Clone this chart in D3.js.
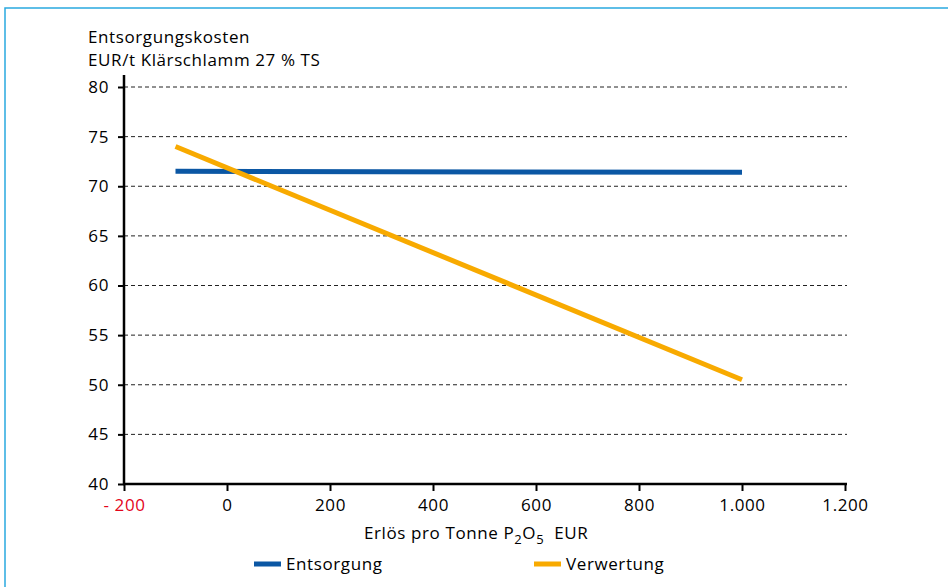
<!DOCTYPE html>
<html><head><meta charset="utf-8">
<script src="https://cdn.jsdelivr.net/npm/d3@7"></script>
<style>
body{margin:0;background:#fff;}
svg{font-family:"Open Sans","Noto Sans",sans-serif;}
</style></head>
<body><svg id="c" width="948" height="587"></svg>
<script>
const xTicks = [-200, 0, 200, 400, 600, 800, 1000, 1200];
const xTickLabels = ["- 200", "0", "200", "400", "600", "800", "1.000", "1.200"];
const yTicks = [40, 45, 50, 55, 60, 65, 70, 75, 80];
const seriesNames = ["Entsorgung", "Verwertung"];
const seriesX = [-100, 1000];
const entsorgung = [71.5, 71.4];
const verwertung = [74.0, 50.5];
const colors = ["#0b57a4", "#f8aa00"];

const FS = 17, LS = 0.6;
const svg = d3.select("#c");
// frame
svg.append("rect").attr("x",5).attr("y",8).attr("width",960).attr("height",600)
  .attr("fill","none").attr("stroke","#2aa9e0").attr("stroke-width",1.5);

const x = d3.scaleLinear().domain([-200,1200]).range([124,845]);
const y = d3.scaleLinear().domain([40,80]).range([484,87]);

// grid
svg.append("g").selectAll("line").data(yTicks.filter(d=>d>40)).join("line")
  .attr("x1",124).attr("x2",847).attr("y1",d=>y(d)).attr("y2",d=>y(d))
  .attr("stroke","#222").attr("stroke-width",1).attr("stroke-dasharray","4,3");

// y axis
const ya = svg.append("g").attr("transform","translate(124,0)")
  .call(d3.axisLeft(y).tickValues(yTicks).tickSize(6).tickPadding(9).tickSizeOuter(0));
ya.select(".domain").remove();
ya.selectAll(".tick line").attr("stroke","#000").attr("stroke-width",2);
ya.selectAll("text").attr("font-size",FS).attr("letter-spacing",LS).attr("fill","#000").attr("font-family","Open Sans");
svg.append("line").attr("x1",124).attr("x2",124).attr("y1",75).attr("y2",485)
  .attr("stroke","#000").attr("stroke-width",2.5);

// x axis
const xa = svg.append("g").attr("transform","translate(0,484)")
  .call(d3.axisBottom(x).tickValues(xTicks).tickFormat((d,i)=>xTickLabels[i]).tickSize(7).tickPadding(8).tickSizeOuter(0));
xa.select(".domain").remove();
xa.selectAll(".tick line").attr("stroke","#000").attr("stroke-width",2);
xa.selectAll("text").attr("font-size",FS).attr("letter-spacing",LS).attr("fill",(d)=>d<0?"#e3051b":"#000").attr("font-family","Open Sans");
svg.append("line").attr("x1",123).attr("x2",847).attr("y1",484).attr("y2",484)
  .attr("stroke","#000").attr("stroke-width",2.5);

// lines
const line = d3.line().x((d,i)=>x(seriesX[i])).y(d=>y(d));
[entsorgung, verwertung].forEach((s,k)=>{
  svg.append("path").datum(s).attr("d",line).attr("fill","none")
    .attr("stroke",colors[k]).attr("stroke-width",5);
});

// titles
const t = svg.append("g").attr("font-size",FS).attr("letter-spacing",LS).attr("fill","#000");
t.append("text").attr("x",88).attr("y",43).text("Entsorgungskosten");
t.append("text").attr("x",88).attr("y",66).text("EUR/t Klärschlamm 27 % TS");

const xt = svg.append("text").attr("x",364).attr("y",539).attr("font-size",FS).attr("letter-spacing",LS).attr("fill","#000");
xt.append("tspan").text("Erlös pro Tonne P");
xt.append("tspan").attr("font-size",13).attr("dy",5).text("2");
xt.append("tspan").attr("dy",-5).text("O");
xt.append("tspan").attr("font-size",13).attr("dy",5).text("5");
xt.append("tspan").attr("dy",-5).text("\u00a0\u00a0EUR");

// legend
const legX = [254, 534];
seriesNames.forEach((n,k)=>{
  svg.append("rect").attr("x",legX[k]).attr("y",561.5).attr("width",27).attr("height",5).attr("fill",colors[k]);
  svg.append("text").attr("x",legX[k]+32).attr("y",570).attr("font-size",FS).attr("letter-spacing",LS).attr("fill","#000").text(n);
});
</script></body></html>
